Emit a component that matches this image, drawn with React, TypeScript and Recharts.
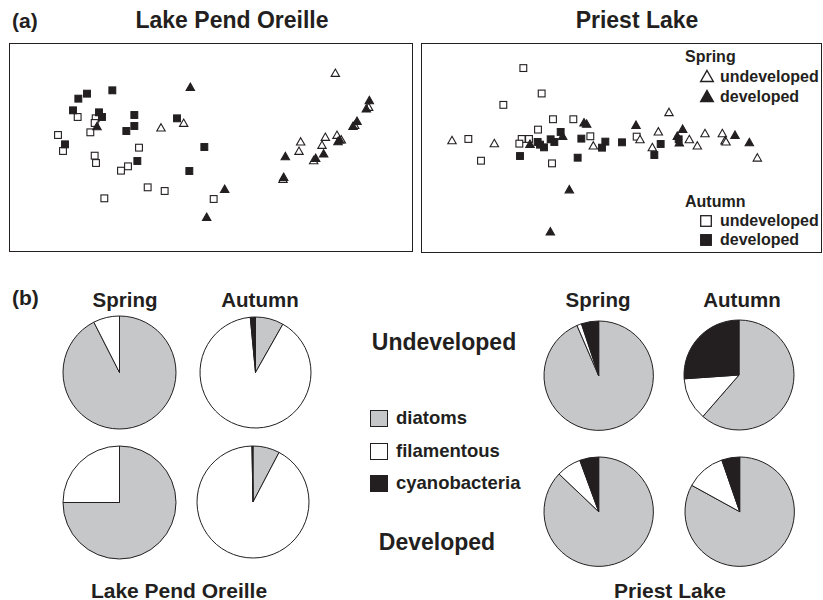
import React from "react";
import { Cell, Pie, PieChart, Scatter, ScatterChart, XAxis, YAxis } from "recharts";

// ordination scores, arbitrary units
const lpoSpringUndeveloped: [number, number][] = [
  [97.9, 53.7], [45.6, 37.3], [52.4, 38.7], [87.5, 33.1], [87.0, 30.3], [94.9, 34.5], [93.9, 32.1],
  [98.4, 35.1], [99.7, 33.7], [107.9, 43.5], [91.4, 27.5], [82.2, 21.9], [103.7, 38.1],
];
const lpoSpringDeveloped: [number, number][] = [
  [54.4, 49.5], [26.4, 37.7], [64.7, 18.9], [59.3, 10.5], [82.9, 28.7], [82.4, 22.5], [108.1, 45.5],
  [107.2, 43.0], [104.4, 39.3], [103.2, 37.8], [98.7, 33.2], [99.2, 33.7], [94.4, 29.5], [92.0, 28.2],
];
const lpoAutumnUndeveloped: [number, number][] = [
  [20.6, 40.5], [26.0, 40.1], [25.7, 38.7], [24.4, 35.9], [14.7, 35.1], [16.2, 30.3], [39.0, 31.3],
  [25.7, 28.9], [26.1, 26.7], [35.7, 25.7], [33.6, 24.4], [41.6, 19.4], [46.7, 18.3], [28.6, 16.1],
  [61.4, 15.9],
];
const lpoAutumnDeveloped: [number, number][] = [
  [20.8, 46.0], [23.4, 47.5], [31.0, 48.5], [19.2, 42.5], [27.0, 41.9], [27.9, 40.5], [37.6, 41.1],
  [37.6, 37.8], [35.2, 36.3], [50.4, 40.1], [16.8, 32.3], [58.6, 31.5], [38.5, 27.3], [54.1, 24.3],
];

const plSpringUndeveloped: [number, number][] = [
  [9.3, 33.7], [22.0, 32.8], [51.7, 32.1], [74.4, 42.1], [65.7, 34.0], [71.2, 36.3], [69.4, 31.6],
  [80.5, 34.0], [82.9, 32.1], [85.2, 35.8], [90.4, 35.8], [91.2, 33.6], [91.5, 33.3], [100.9, 28.5],
];
const plSpringDeveloped: [number, number][] = [
  [48.9, 39.0], [49.7, 38.6], [64.5, 38.3], [42.5, 35.0], [32.7, 32.6], [44.5, 19.0], [38.8, 6.4],
  [78.5, 37.1], [76.9, 35.0], [77.5, 33.0], [94.2, 35.3], [98.5, 33.1],
];
const plAutumnUndeveloped: [number, number][] = [
  [30.7, 55.3], [36.2, 47.7], [24.7, 44.3], [39.6, 40.0], [45.7, 40.0], [35.1, 36.9], [14.2, 34.1],
  [30.2, 34.1], [32.4, 34.1], [29.5, 32.7], [50.8, 34.9], [64.7, 34.8], [18.0, 27.6], [39.3, 26.8],
];
const plAutumnDeveloped: [number, number][] = [
  [41.9, 36.2], [35.0, 33.2], [35.7, 32.4], [36.9, 31.6], [38.9, 34.0], [40.0, 33.2], [48.1, 34.2],
  [55.3, 33.3], [54.3, 31.5], [60.3, 33.1], [29.7, 29.0], [47.0, 28.5], [71.9, 32.6], [70.0, 29.3],
  [77.3, 34.0],
];

// panel (b): % of algal biovolume
const groups = ["diatoms", "filamentous", "cyanobacteria"];
const lpoSpringUndevPct = [92.5, 7.5, 0];
const lpoAutumnUndevPct = [8.2, 90.3, 1.5];
const lpoSpringDevPct = [75, 25, 0];
const lpoAutumnDevPct = [7.7, 92.0, 0.3];
const plSpringUndevPct = [93.5, 1.4, 5.1];
const plAutumnUndevPct = [61.4, 12.5, 26.1];
const plSpringDevPct = [87.1, 7.3, 5.6];
const plAutumnDevPct = [83.0, 11.7, 5.3];

const INK = "#231f20";
const GREY = "#c6c7c9";
const groupFill = [GREY, "#ffffff", INK];
const FONT = "'Liberation Sans', Arial, Helvetica, sans-serif";

const toPts = (arr: [number, number][]) => arr.map(([x, y]) => ({ x, y }));

const triangle = (filled: boolean) => (p: any) => {
  const { cx, cy } = p;
  const w = 4.2;
  return (
    <polygon
      points={`${cx},${cy - 4} ${cx + w},${cy + 3.4} ${cx - w},${cy + 3.4}`}
      fill={filled ? INK : "#fff"}
      stroke={INK}
      strokeWidth={1.1}
    />
  );
};
const square = (filled: boolean) => (p: any) => {
  const { cx, cy } = p;
  return (
    <rect x={cx - 3.4} y={cy - 3.4} width={6.8} height={6.8} fill={filled ? INK : "#fff"} stroke={INK} strokeWidth={1.1} />
  );
};

function Ordination({
  left, top, width, height, xMax, yMax, su, sd, au, ad,
}: {
  left: number; top: number; width: number; height: number; xMax: number; yMax: number;
  su: [number, number][]; sd: [number, number][]; au: [number, number][]; ad: [number, number][];
}) {
  return (
    <>
      <div style={{ position: "absolute", left, top }}>
        <ScatterChart width={width} height={height} margin={{ top: 0, right: 0, bottom: 0, left: 0 }}>
          <XAxis type="number" dataKey="x" domain={[0, xMax]} hide />
          <YAxis type="number" dataKey="y" domain={[0, yMax]} hide />
          <Scatter data={toPts(au)} shape={square(false)} isAnimationActive={false} />
          <Scatter data={toPts(su)} shape={triangle(false)} isAnimationActive={false} />
          <Scatter data={toPts(ad)} shape={square(true)} isAnimationActive={false} />
          <Scatter data={toPts(sd)} shape={triangle(true)} isAnimationActive={false} />
        </ScatterChart>
      </div>
      <div
        style={{
          position: "absolute", left, top, width, height, boxSizing: "border-box",
          border: `1.3px solid ${INK}`, pointerEvents: "none",
        }}
      />
    </>
  );
}

function Composition({ cx, cy, r, values }: { cx: number; cy: number; r: number; values: number[] }) {
  const size = 2 * r + 6;
  const data = groups.map((g, i) => ({ name: g, value: values[i] }));
  return (
    <div style={{ position: "absolute", left: cx - size / 2, top: cy - size / 2 }}>
      <PieChart width={size} height={size} margin={{ top: 0, right: 0, bottom: 0, left: 0 }}>
        <Pie
          data={data}
          dataKey="value"
          cx={size / 2}
          cy={size / 2}
          outerRadius={r}
          startAngle={90}
          endAngle={-270}
          stroke={INK}
          strokeWidth={1}
          isAnimationActive={false}
        >
          {data.map((d, i) => (
            <Cell key={d.name} fill={groupFill[i]} />
          ))}
        </Pie>
      </PieChart>
    </div>
  );
}

function Label({ x, y, size, children, align = "center" }: { x: number; y: number; size: number; children: React.ReactNode; align?: "center" | "left" }) {
  return (
    <div
      style={{
        position: "absolute", left: x, top: y, fontSize: size, lineHeight: 1, fontWeight: 700,
        whiteSpace: "nowrap", color: INK,
        transform: align === "center" ? "translate(-50%, -50%)" : "translate(0, -50%)",
      }}
    >
      {children}
    </div>
  );
}

function Icon({ x, y, kind }: { x: number; y: number; kind: "tu" | "td" | "su" | "sd" }) {
  return (
    <svg width={16} height={16} style={{ position: "absolute", left: x - 8, top: y - 8 }}>
      {kind === "tu" || kind === "td" ? (
        <polygon points="8,2.5 14.3,13.5 1.7,13.5" fill={kind === "td" ? INK : "#fff"} stroke={INK} strokeWidth={1.4} />
      ) : (
        <rect x={2.7} y={2.7} width={10.6} height={10.6} fill={kind === "sd" ? INK : "#fff"} stroke={INK} strokeWidth={1.3} />
      )}
    </svg>
  );
}

export default function App() {
  return (
    <div style={{ position: "absolute", left: 0, top: 0, width: 823, height: 600, background: "#fff", fontFamily: FONT, overflow: "hidden" }}>
      {/* (a) ordinations */}
      <Label x={12} y={20} size={21} align="left">(a)</Label>
      <Label x={232} y={20} size={23}>Lake Pend Oreille</Label>
      <Label x={637} y={20} size={23}>Priest Lake</Label>

      <Ordination left={9} top={43} width={404} height={209} xMax={121.2} yMax={62.7}
        su={lpoSpringUndeveloped} sd={lpoSpringDeveloped} au={lpoAutumnUndeveloped} ad={lpoAutumnDeveloped} />
      <Ordination left={421} top={43} width={401} height={210} xMax={120.3} yMax={62.8}
        su={plSpringUndeveloped} sd={plSpringDeveloped} au={plAutumnUndeveloped} ad={plAutumnDeveloped} />

      <Label x={685} y={57} size={16} align="left">Spring</Label>
      <Icon x={706.5} y={76} kind="tu" />
      <Label x={720} y={77} size={16} align="left">undeveloped</Label>
      <Icon x={706.5} y={96} kind="td" />
      <Label x={720} y={97} size={16} align="left">developed</Label>
      <Label x={685} y={202} size={16} align="left">Autumn</Label>
      <Icon x={706} y={221} kind="su" />
      <Label x={720} y={221} size={16} align="left">undeveloped</Label>
      <Icon x={706} y={240} kind="sd" />
      <Label x={720} y={240} size={16} align="left">developed</Label>

      {/* (b) composition */}
      <Label x={12} y={297} size={21} align="left">(b)</Label>
      <Label x={125} y={300} size={20.5}>Spring</Label>
      <Label x={260} y={300} size={20.5}>Autumn</Label>
      <Label x={598} y={300} size={20.5}>Spring</Label>
      <Label x={742} y={300} size={20.5}>Autumn</Label>
      <Label x={444} y={342} size={23}>Undeveloped</Label>
      <Label x={437} y={542} size={23}>Developed</Label>

      <Composition cx={119.5} cy={372} r={56.5} values={lpoSpringUndevPct} />
      <Composition cx={255} cy={372} r={55.5} values={lpoAutumnUndevPct} />
      <Composition cx={119.5} cy={502.5} r={56.5} values={lpoSpringDevPct} />
      <Composition cx={253} cy={502} r={56} values={lpoAutumnDevPct} />
      <Composition cx={598.5} cy={375.5} r={54.7} values={plSpringUndevPct} />
      <Composition cx={738.5} cy={375} r={55} values={plAutumnUndevPct} />
      <Composition cx={598.5} cy={511.5} r={54.7} values={plSpringDevPct} />
      <Composition cx={739.5} cy={512} r={54.7} values={plAutumnDevPct} />

      {groups.map((g, i) => (
        <React.Fragment key={g}>
          <div
            style={{
              position: "absolute", left: 370, top: [409.5, 442.5, 474.5][i], width: 18, height: 17,
              boxSizing: "border-box", background: groupFill[i], border: `1.3px solid ${INK}`,
            }}
          />
          <Label x={396} y={[418, 451, 482.5][i]} size={18.5} align="left">{g}</Label>
        </React.Fragment>
      ))}

      <Label x={179} y={590} size={21}>Lake Pend Oreille</Label>
      <Label x={670} y={590} size={21}>Priest Lake</Label>
    </div>
  );
}
